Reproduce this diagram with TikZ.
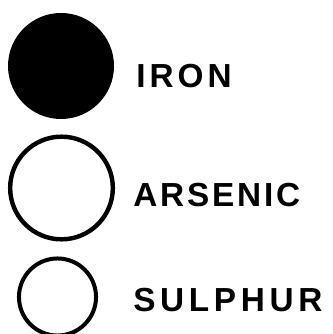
\documentclass[tikz,border=0pt]{standalone}
\usepackage{fontspec}
\usepackage{tikz}
\newfontfamily\letterfont{Liberation Sans}
\tikzset{
  fullball/.style={circle,fill=black,draw=none,inner sep=0pt,
                   minimum size=79.5pt},
  hollowball/.style={circle,draw=black,fill=white,line width=3.3pt,
                     inner sep=0pt},
  tag/.style={anchor=base west,inner sep=0pt}
}
\newcommand{\tagfont}[1]{\letterfont\bfseries\fontsize{25}{30}\selectfont
  \addfontfeature{LetterSpace=#1}}
\begin{document}
\begin{tikzpicture}[x=0.75pt,y=-0.75pt]
    \path[use as bounding box,fill=white] (0,0) rectangle (332,334);
    \node[fullball] (iron) at (61,66) {};
    \node[hollowball,minimum size=77pt] (arsenic) at (61.5,188) {};
    \node[hollowball,line width=3pt,minimum size=57.8pt] (sulphur)
      at (57.5,297) {};

    \node[tag,font=\tagfont{12}] (ironlbl) at (136,88) {IRON};
    \node[tag,font=\tagfont{8.5}] (arseniclbl) at (133,206) {ARSENIC};
    \node[tag,font=\tagfont{14}] (sulphurlbl) at (133,311) {SULPHUR};
\end{tikzpicture}
\end{document}
